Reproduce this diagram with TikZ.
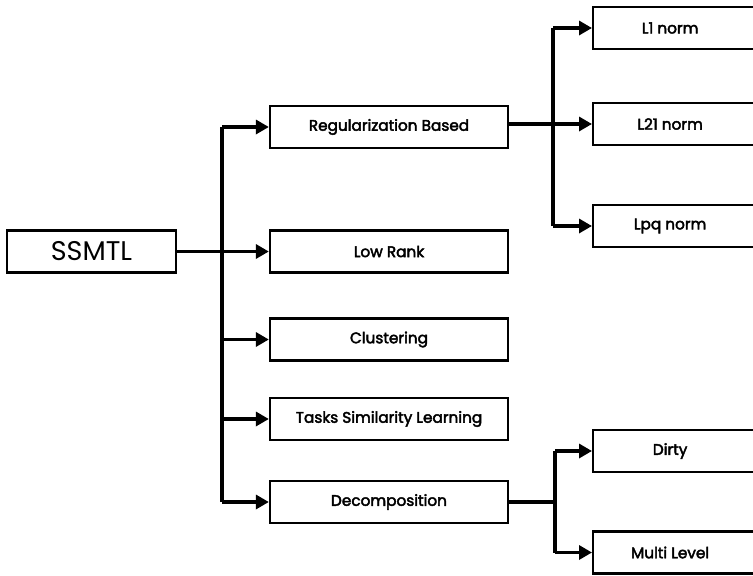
\documentclass[tikz,border=0pt]{standalone}
\usepackage{fontspec}
\setmainfont{Poppins}
\usetikzlibrary{arrows.meta}
\begin{document}
\begin{tikzpicture}[x=1pt,y=-1pt,
  box/.style={draw=black,line width=2.3pt,fill=white,rectangle,inner sep=0pt,font=\fontsize{15.3}{17}\selectfont\addfontfeature{FakeBold=2.8}},
  conn/.style={line width=3.8pt,draw=black},
  arr/.style={conn,-{Triangle[width=14pt,length=13pt]}}]
\useasboundingbox (0,0) rectangle (753,576);
\clip (0,0) rectangle (753,576);
\node[box,minimum width=169pt,minimum height=42pt,font=\fontsize{27}{30}\selectfont] (root) at (91.5,251.5) {SSMTL};
\node[box,minimum width=238pt,minimum height=42pt] (reg) at (389,127) {Regularization Based};
\node[box,minimum width=238pt,minimum height=42pt] (low) at (389,251.5) {Low Rank};
\node[box,minimum width=238pt,minimum height=42pt] (clu) at (389,339.5) {Clustering};
\node[box,minimum width=238pt,minimum height=42pt] (tsl) at (389,419) {Tasks Similarity Learning};
\node[box,minimum width=238pt,minimum height=42pt] (dec) at (389,502) {Decomposition};
\node[box,minimum width=186pt,minimum height=42pt,anchor=west] (l1) at (592,28) {\hspace*{-32pt}L1 norm};
\node[box,minimum width=186pt,minimum height=42pt,anchor=west] (l21) at (592,124) {\hspace*{-32pt}L21 norm};
\node[box,minimum width=186pt,minimum height=42pt,anchor=west] (lpq) at (592,226) {\hspace*{-32pt}Lpq norm};
\node[box,minimum width=186pt,minimum height=42pt,anchor=west] (dirty) at (592,451) {\hspace*{-32pt}Dirty};
\node[box,minimum width=186pt,minimum height=42pt,anchor=west] (ml) at (592,552.5) {\hspace*{-32pt}Multi Level};
% trunk from root
\coordinate (t1) at (222,127);
\coordinate (t2) at (222,502);
\draw[conn] (t1) -- (t2);
\draw[conn] (root.east) -- (222,251.5);
\draw[arr] (222,127) -- (reg.west);
\draw[arr] (222,251.5) -- (low.west);
\draw[arr] (222,339.5) -- (clu.west);
\draw[arr] (222,419) -- (tsl.west);
\draw[arr] (222,502) -- (dec.west);
% regularization branch
\draw[conn] (553,28) -- (553,226);
\draw[arr] (reg.east |- l21.west) -- (l21.west);
\draw[arr] (553,28) -- (l1.west);
\draw[arr] (553,226) -- (lpq.west);
% decomposition branch
\draw[conn] (555,451) -- (555,552.5);
\draw[conn] (dec.east) -- (555,502);
\draw[arr] (555,451) -- (dirty.west);
\draw[arr] (555,552.5) -- (ml.west);
\end{tikzpicture}
\end{document}
